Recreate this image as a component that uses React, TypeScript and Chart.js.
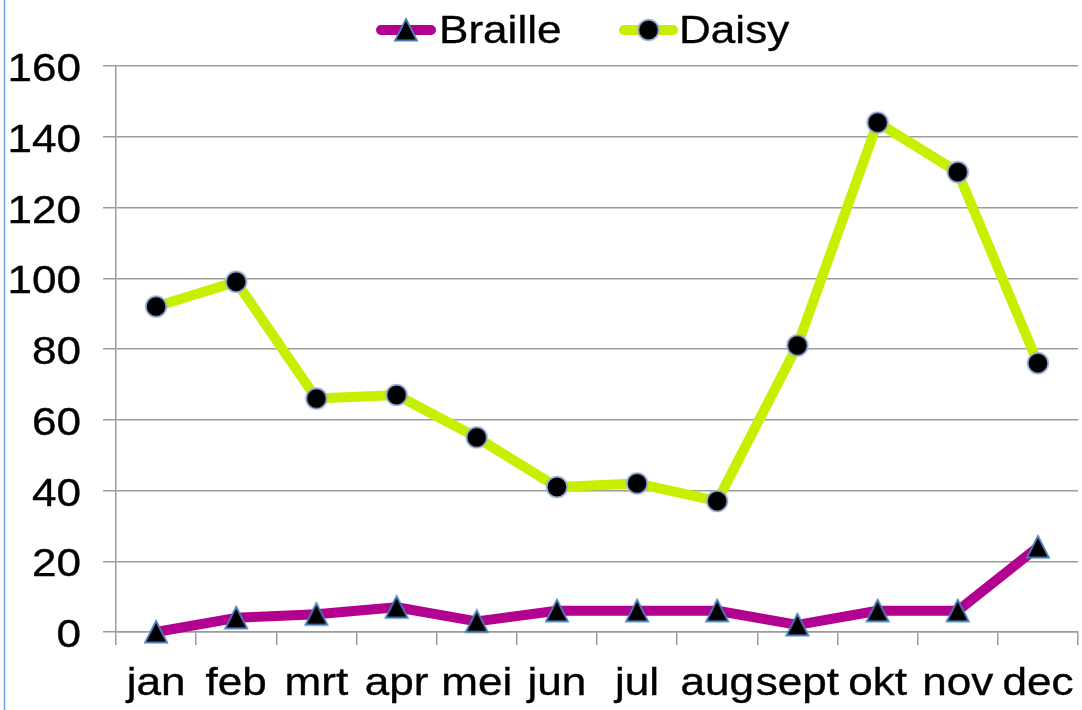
import React, { useEffect, useRef } from "react";
import { Chart, registerables } from "chart.js";

Chart.register(...registerables);

const months = ["jan", "feb", "mrt", "apr", "mei", "jun", "jul", "aug", "sept", "okt", "nov", "dec"];
const brailleValues = [0, 4, 5, 7, 3, 6, 6, 6, 2, 6, 6, 24];
const daisyValues = [92, 99, 66, 67, 55, 41, 42, 37, 81, 144, 130, 76];
const seriesNames = ["Braille", "Daisy"];
const yMin = 0;
const yMax = 160;
const yStep = 20;

const BRAILLE_COLOR = "#B2008F";
const DAISY_COLOR = "#C6F000";
const GRID_COLOR = "#9c9c9c";
const FONT = '38px "Liberation Sans", Arial, sans-serif';
const STRETCH = 1.16;

function makeTriangle(): HTMLCanvasElement {
  const c = document.createElement("canvas");
  c.width = 26;
  c.height = 26;
  const ctx = c.getContext("2d")!;
  ctx.beginPath();
  ctx.moveTo(13, 2);
  ctx.lineTo(24, 23.5);
  ctx.lineTo(2, 23.5);
  ctx.closePath();
  ctx.fillStyle = "#000000";
  ctx.fill();
  ctx.lineWidth = 1.8;
  ctx.strokeStyle = "#4A7EBB";
  ctx.lineJoin = "miter";
  ctx.stroke();
  return c;
}

function makeCircle(): HTMLCanvasElement {
  const c = document.createElement("canvas");
  c.width = 26;
  c.height = 26;
  const ctx = c.getContext("2d")!;
  ctx.beginPath();
  ctx.arc(13, 13, 10.3, 0, Math.PI * 2);
  ctx.fillStyle = "#000000";
  ctx.fill();
  ctx.lineWidth = 1.8;
  ctx.strokeStyle = "#9BB3D6";
  ctx.stroke();
  return c;
}

function stretchedText(ctx: CanvasRenderingContext2D, text: string, x: number, y: number, align: CanvasTextAlign) {
  ctx.save();
  ctx.translate(x, y);
  ctx.scale(STRETCH, 1);
  ctx.font = FONT;
  ctx.fillStyle = "#000000";
  ctx.strokeStyle = "#000000";
  ctx.lineWidth = 0.35;
  ctx.textAlign = align;
  ctx.textBaseline = "alphabetic";
  ctx.fillText(text, 0, 0);
  ctx.strokeText(text, 0, 0);
  ctx.restore();
}

export default function App() {
  const canvasRef = useRef<HTMLCanvasElement | null>(null);

  useEffect(() => {
    if (!canvasRef.current) return;
    const tri = makeTriangle();
    const circ = makeCircle();

    const decor = {
      id: "decor",
      afterDraw(chart: any) {
        const ctx: CanvasRenderingContext2D = chart.ctx;
        // left blue frame line
        ctx.save();
        ctx.strokeStyle = "#6FA2E6";
        ctx.lineWidth = 1.5;
        ctx.beginPath();
        ctx.moveTo(4.5, 0);
        ctx.lineTo(4.5, 710);
        ctx.stroke();
        ctx.restore();

        // legend
        const legendY = 30;
        const items = [
          { name: seriesNames[0], color: BRAILLE_COLOR, img: tri, x0: 376, x1: 436, tx: 439 },
          { name: seriesNames[1], color: DAISY_COLOR, img: circ, x0: 619, x1: 678, tx: 679 },
        ];
        items.forEach((it) => {
          ctx.save();
          ctx.strokeStyle = it.color;
          ctx.lineWidth = 10;
          ctx.lineCap = "round";
          ctx.beginPath();
          ctx.moveTo(it.x0 + 5, legendY);
          ctx.lineTo(it.x1 - 5, legendY);
          ctx.stroke();
          const cx = (it.x0 + it.x1) / 2;
          ctx.drawImage(it.img, cx - 13, legendY - 13);
          ctx.restore();
          stretchedText(ctx, it.name, it.tx, legendY + 13, "left");
        });

        // y tick labels
        const ys = chart.scales.y;
        ys.ticks.forEach((t: any) => {
          const py = ys.getPixelForValue(t.value);
          stretchedText(ctx, String(t.value), 81, py + 15, "right");
        });

        // x tick labels
        const xs = chart.scales.x;
        months.forEach((m, i) => {
          const px = xs.getPixelForTick(i);
          stretchedText(ctx, m, px, 695, "center");
        });
      },
    };

    const chart = new Chart(canvasRef.current, {
      type: "line",
      data: {
        labels: months,
        datasets: [
          {
            label: seriesNames[0],
            data: brailleValues,
            borderColor: BRAILLE_COLOR,
            backgroundColor: BRAILLE_COLOR,
            borderWidth: 10,
            borderJoinStyle: "round",
            borderCapStyle: "round",
            pointStyle: tri as any,
            pointRadius: 13,
            tension: 0,
            clip: false as any,
          },
          {
            label: seriesNames[1],
            data: daisyValues,
            borderColor: DAISY_COLOR,
            backgroundColor: DAISY_COLOR,
            borderWidth: 10,
            borderJoinStyle: "round",
            borderCapStyle: "round",
            pointStyle: circ as any,
            pointRadius: 13,
            tension: 0,
            clip: false as any,
          },
        ],
      },
      options: {
        animation: false,
        responsive: false,
        maintainAspectRatio: false,
        events: [],
        layout: { autoPadding: false, padding: { top: 66, right: 4, left: 0, bottom: 0 } },
        plugins: {
          legend: { display: false },
          tooltip: { enabled: false },
          title: { display: false },
        },
        scales: {
          x: {
            type: "category",
            offset: true,
            grid: {
              offset: true,
              drawOnChartArea: false,
              drawTicks: true,
              tickLength: 13,
              color: GRID_COLOR,
              lineWidth: 1.5,
            },
            border: { display: true, color: GRID_COLOR, width: 1.5 },
            ticks: { display: false },
            afterFit: (s: any) => {
              s.height = 78;
            },
          },
          y: {
            min: yMin,
            max: yMax,
            ticks: { display: false, stepSize: yStep },
            grid: {
              drawTicks: true,
              tickLength: 13,
              color: GRID_COLOR,
              lineWidth: 1.5,
            },
            border: { display: true, color: GRID_COLOR, width: 1.5 },
            afterFit: (s: any) => {
              s.width = 116;
            },
          },
        },
      },
      plugins: [decor],
    });

    return () => chart.destroy();
  }, []);

  return (
    <div style={{ position: "fixed", left: 0, top: 0, width: 1082, height: 710, background: "#ffffff" }}>
      <canvas ref={canvasRef} width={1082} height={710} style={{ display: "block", width: 1082, height: 710 }} />
    </div>
  );
}
